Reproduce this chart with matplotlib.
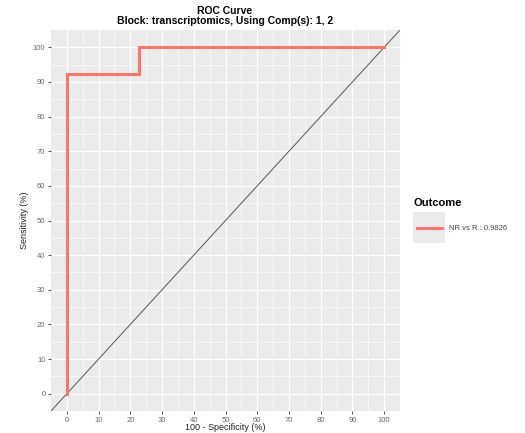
import matplotlib.pyplot as plt
from matplotlib.lines import Line2D
from matplotlib.patches import Rectangle

plt.rcParams['font.family'] = ['Liberation Sans', 'DejaVu Sans']

# ROC curve points (100 - specificity, sensitivity)
fpr = [0, 0, 22.6, 22.6, 100]
tpr = [0, 92.3, 92.3, 100, 100]
series_label = 'NR vs R : 0.9826'
ticks = list(range(0, 101, 10))
minor_ticks = list(range(5, 100, 10))

W, H = 525, 433
RED = '#F8766D'

fig = plt.figure(figsize=(W / 100, H / 100), dpi=100)
ax = fig.add_axes([51 / W, 1 - 411 / H, 349 / W, 381 / H])
ax.set_facecolor('#EBEBEB')

ax.set_xlim(-5, 105)
ax.set_ylim(-5, 105)
ax.set_xticks(ticks)
ax.set_yticks(ticks)
ax.set_xticks(minor_ticks, minor=True)
ax.set_yticks(minor_ticks, minor=True)
ax.grid(which='major', color='white', linewidth=0.9)
ax.grid(which='minor', color='white', linewidth=0.45)
ax.set_axisbelow(True)
for s in ax.spines.values():
  s.set_visible(False)
ax.tick_params(which='major', labelsize=5.5, colors='#333333', labelcolor='#6b6b6b',
               length=2.5, width=0.6, pad=1.5)
ax.tick_params(which='minor', length=0)

ax.plot([-5, 105], [-5, 105], color='#555555', linewidth=0.7, zorder=2)
ax.plot(fpr, tpr, color=RED, linewidth=2.2, zorder=3, solid_joinstyle='miter')

ax.set_ylabel('Sensitivity (%)', fontsize=6.5, labelpad=3, color='#222222')
fig.text(225 / W, 1 - 428 / H, '100 - Specificity (%)', ha='center', va='center',
         fontsize=6.5, color='#222222')

fig.text(225 / W, 1 - 11 / H, 'ROC Curve', ha='center', va='center', fontsize=7.5, fontweight='bold')
fig.text(225 / W, 1 - 21 / H, 'Block: transcriptomics, Using Comp(s): 1, 2',
         ha='center', va='center', fontsize=7.5, fontweight='bold')

# legend drawn by hand to mimic the ggplot key
fig.text(413 / W, 1 - 203 / H, 'Outcome', ha='left', va='center', fontsize=8, fontweight='bold')
fig.patches.append(Rectangle((413 / W, 1 - 243 / H), 32 / W, 31 / H, transform=fig.transFigure,
                             facecolor='#EBEBEB', edgecolor='none'))
fig.lines.append(Line2D([417 / W, 442 / W], [1 - 228 / H, 1 - 228 / H], transform=fig.transFigure,
                        color=RED, linewidth=2.2))
fig.text(449 / W, 1 - 228 / H, series_label, ha='left', va='center', fontsize=5.5, color='#444444')

fig.savefig('out.png', dpi=100)
